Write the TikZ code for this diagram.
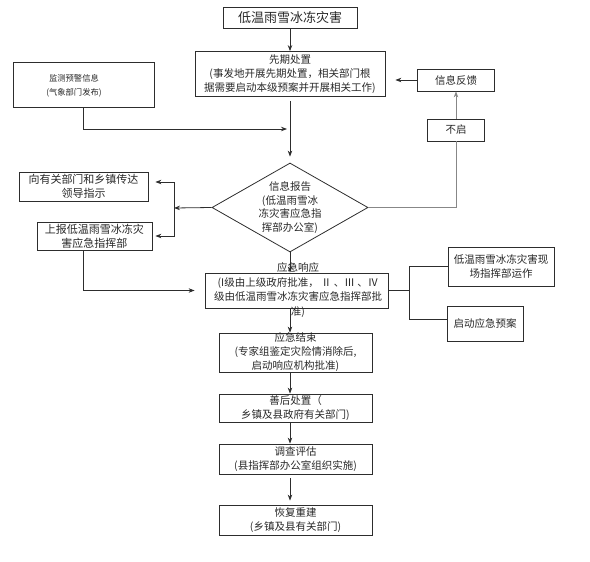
\documentclass[tikz,border=0pt]{standalone}
\usepackage{fontspec}
\setmainfont{Noto Sans CJK SC}
\usetikzlibrary{arrows.meta, shapes.geometric, calc}
\definecolor{linedark}{RGB}{45,45,45}
\definecolor{linegray}{RGB}{135,135,135}
\definecolor{textdark}{RGB}{40,40,40}

\begin{document}
\begin{tikzpicture}[
  x=1pt, y=-1pt,
  >={Stealth[length=6pt, width=4.5pt]},
  box/.style={
    rectangle, draw=linedark, line width=0.8pt, inner sep=0pt,
    align=center, text=textdark, font=\fontsize{10.5}{14}\selectfont
  },
  stepbox/.style={box, minimum width=153pt},
  decision/.style={
    diamond, aspect=1.75, draw=linedark, line width=0.8pt, inner sep=0pt,
    minimum width=156pt, minimum height=89pt,
    align=center, text=textdark, font=\fontsize{10.5}{13.5}\selectfont
  },
  boxtext/.style={align=center, inner sep=0pt, text=textdark,
    font=\fontsize{10.5}{14.5}\selectfont},
  arrow/.style={->, line width=0.8pt, draw=linedark},
  conn/.style={line width=0.8pt, draw=linedark},
  grayarrow/.style={->, line width=0.8pt, draw=linegray},
  grayconn/.style={line width=0.8pt, draw=linegray}
]
\useasboundingbox (0,0) rectangle (590,562);

% Top part
\node[box, minimum width=134pt, minimum height=21pt,
      font=\fontsize{13}{15}\selectfont] (disaster) at (290,17.5) {低温雨雪冰冻灾害};
\node[box, minimum width=190pt, minimum height=45pt] (first) at (290,74)
  {先期处置\\ (事发地开展先期处置，相关部门根\\据需要启动本级预案并开展相关工作)};
\node[box, minimum width=141pt, minimum height=45pt] (monitor) at (83.5,84.5) {};
\node[boxtext, font=\fontsize{8.3}{14}\selectfont] (monitortext) at (74,86)
  {监测预警信息\\(气象部门发布)};
\node[box, minimum width=77pt, minimum height=22pt] (feedback) at (456,80) {信息反馈};
\node[box, minimum width=57pt, minimum height=22pt] (nostart) at (456,130) {不启};

% Information report
\node[decision] (report) at (290,207.5)
  {信息报告\\ (低温雨雪冰\\冻灾害应急指\\挥部办公室)};
\node[box, minimum width=129pt, minimum height=29pt,
      font=\fontsize{11}{14}\selectfont] (tell) at (83.5,186.5)
  {向有关部门和乡镇传达\\领导指示};
\node[box, minimum width=115pt, minimum height=28pt,
      font=\fontsize{11}{14}\selectfont] (upreport) at (94.5,236)
  {上报低温雨雪冰冻灾\\害应急指挥部};
\coordinate (split) at (174,208);
\coordinate (monjoin) at (290,129);

% Emergency response
\node[box, minimum width=183pt, minimum height=35pt] (response) at (296.5,290.5) {};
\node[boxtext] (responsetext) at (298,290)
  {应急响应\\ (I级由上级政府批准， Ⅱ 、Ⅲ 、Ⅳ\\级由低温雨雪冰冻灾害应急指挥部批\\准)};
\node[box, minimum width=106pt, minimum height=39pt] (site) at (501,266.5)
  {低温雨雪冰冻灾害现\\场指挥部运作};
\node[box, minimum width=76pt, minimum height=35pt] (plan) at (485,323.5) {启动应急预案};
\coordinate (branch) at ($(response.east)+(21,0)$);

% Bottom chain
\node[stepbox, minimum height=39pt] (ending) at (295.5,352.5)
  {应急结束\\(专家组鉴定灾险情消除后,\\启动响应机构批准)};
\node[stepbox, minimum height=28pt] (aftercare) at (295.5,408)
  {善后处置（\\乡镇及县政府有关部门)};
\node[stepbox, minimum height=30pt] (survey) at (295.5,459)
  {调查评估\\(县指挥部办公室组织实施)};
\node[stepbox, minimum height=30pt] (rebuild) at (295.5,520)
  {恢复重建\\(乡镇及县有关部门)};

% Top arrows
\draw[arrow] (disaster) -- (first);
\draw[arrow, shorten >=3pt] (monitor.south) |- (monjoin);
\draw[arrow, shorten <=4pt, shorten >=6pt] (first.south) -- (report.north);
\draw[arrow, shorten >=10pt] (feedback.west) -- (feedback.west -| first.east);
\draw[grayarrow] (nostart) -- (feedback);
\draw[grayconn] (report.east) -| (nostart.south);

% Left arrows
\draw[arrow] (report.west) -- (split);
\draw[arrow, shorten >=7pt] (split) |- ([yshift=4.5pt]tell.east);
\draw[arrow, shorten >=3pt] (split) |- (upreport.east);
\draw[arrow, shorten >=10pt] ([xshift=-11.5pt]upreport.south) |- (response.west);

% Response branches
\draw[arrow] (report.south) -- (report.south |- response.north);
\draw[conn] (response.east) -- (branch);
\draw[conn] (branch) |- (site.west);
\draw[conn] (branch) |- ([yshift=4.5pt]plan.west);

% Bottom arrows
\draw[arrow] (report.south |- response.south) -- (report.south |- ending.north);
\draw[arrow] (report.south |- ending.south) -- (report.south |- aftercare.north);
\draw[arrow] (report.south |- aftercare.south) -- (report.south |- survey.north);
\draw[arrow, shorten <=4pt, shorten >=4pt]
  (report.south |- survey.south) -- (report.south |- rebuild.north);

\end{tikzpicture}
\end{document}
